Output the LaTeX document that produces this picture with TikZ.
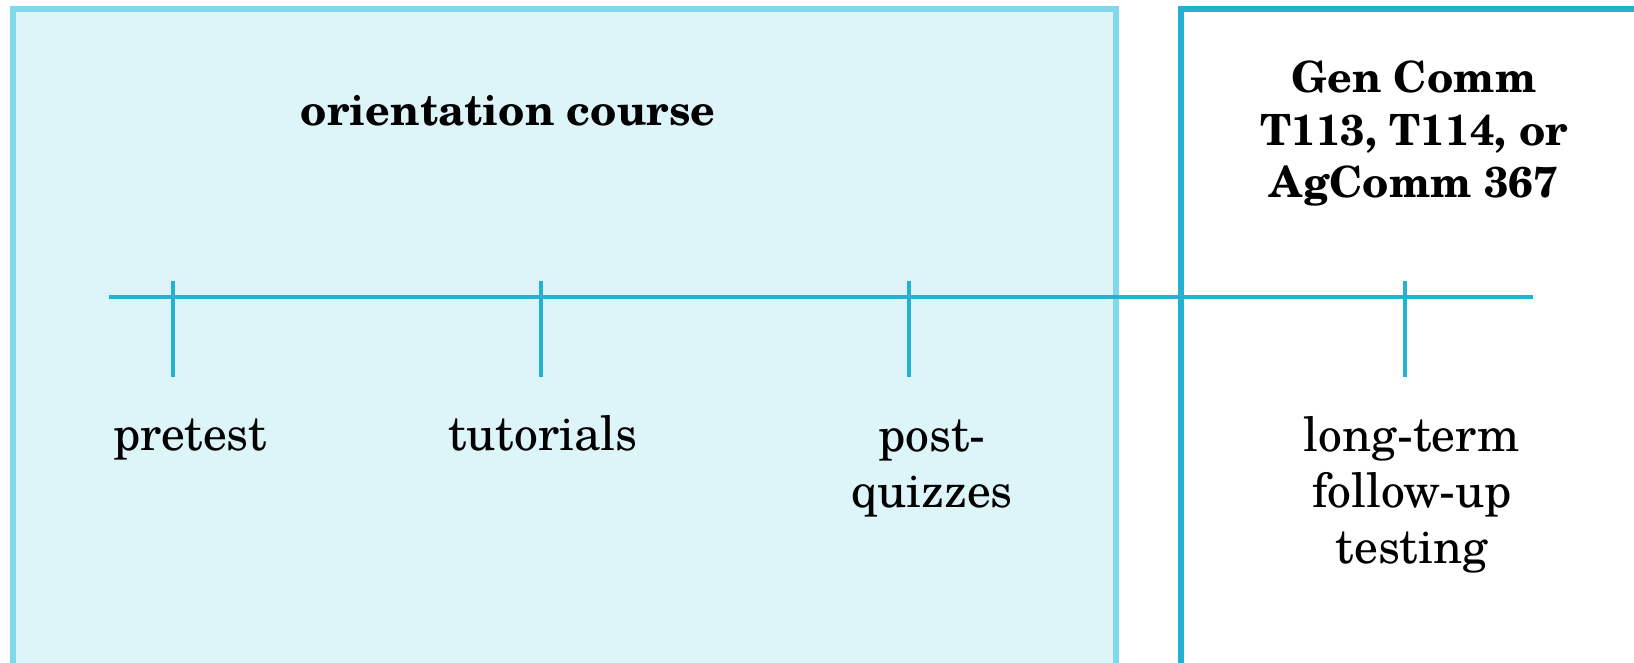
\documentclass[tikz,border=0pt]{standalone}
\usepackage{fontspec}
\setmainfont{TeX Gyre Schola}
\definecolor{boxfill}{HTML}{DDF4F9}
\definecolor{boxedge}{HTML}{80D9EB}
\definecolor{darkedge}{HTML}{24B0D0}
\definecolor{tl}{HTML}{22B2D3}
\tikzset{
  phasebox/.style={draw, line width=2.8pt},
  tline/.style={draw=tl, line width=1.6pt},
  ttick/.style={draw=tl, line width=1.6pt},
  titletext/.style={font=\fontsize{21.5}{26.3}\selectfont\bfseries, align=center, inner sep=0pt, anchor=base},
  stagetext/.style={font=\fontsize{23.8}{28}\selectfont, align=center, inner sep=0pt, anchor=base},
}
\begin{document}
\begin{tikzpicture}[x=0.5pt,y=-0.5pt]
\useasboundingbox (0,0) rectangle (1634,663);
\begin{scope}
\clip (0,0) rectangle (1634,663);
\path[phasebox, draw=boxedge, fill=boxfill] (13,9) rectangle (1116,668);
\path[phasebox, draw=darkedge] (1181,9) rectangle (1645,668);
\end{scope}
% timeline
\coordinate (tlA) at (109,297);
\coordinate (tlB) at (1533,297);
\path[tline] (tlA) -- (tlB);
\foreach \n/\x in {t1/173, t2/541, t3/909, t4/1405}{
  \coordinate (\n top) at (\x,281);
  \coordinate (\n bot) at (\x,377);
  \path[ttick] (\n top) -- (\n bot);
}
% titles (anchor=base is the baseline of the last line)
\node[titletext] (orient) at (508,126) {orientation course};
\node[titletext] (gencomm) at (1414,198) {Gen Comm\\T113, T114, or\\AgComm 367};
% stages
\node[stagetext] (pretest) at (190,451) {pretest};
\node[stagetext] (tutorials) at (543,451) {tutorials};
\node[stagetext] (postq) at (932,507) {post-\\quizzes};
\node[stagetext] (longterm) at (1412,563) {long-term\\follow-up\\testing};
\end{tikzpicture}
\end{document}
